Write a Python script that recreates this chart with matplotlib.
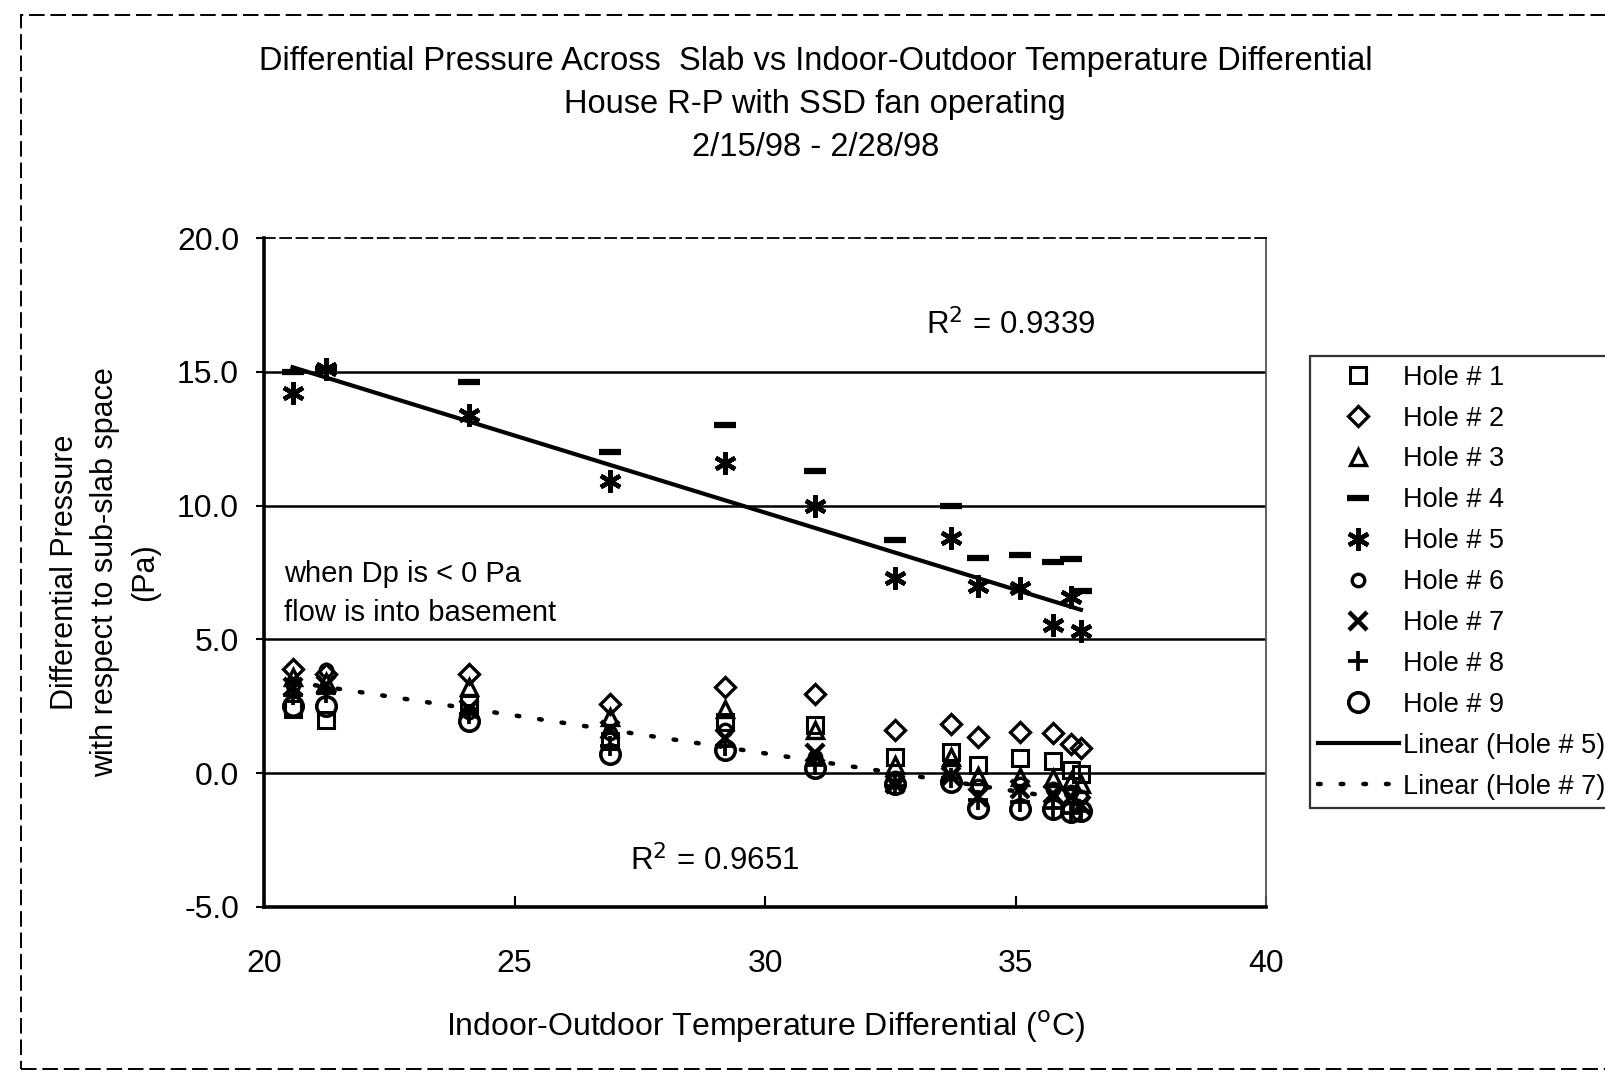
import numpy as np
import matplotlib
matplotlib.use('Agg')
import matplotlib.pyplot as plt
from matplotlib.patches import Rectangle

plt.rcParams['font.family'] = ['Liberation Sans', 'DejaVu Sans']

# temperature differential (deg C) for each reading
temp_diff = [20.57, 21.23, 24.1, 26.9, 29.2, 31.0, 32.6, 33.7, 34.24, 35.08, 35.75, 36.1, 36.3]

# differential pressure (Pa) per hole
hole1 = [2.4, 2.0, 2.6, 1.2, 1.9, 1.8, 0.6, 0.8, 0.3, 0.55, 0.45, 0.1, -0.05]
hole2 = [3.9, 3.7, 3.7, 2.6, 3.2, 2.95, 1.6, 1.85, 1.35, 1.55, 1.5, 1.1, 0.95]
hole3 = [3.6, 3.4, 3.2, 2.1, 2.4, 1.6, 0.3, 0.6, -0.1, -0.15, -0.2, -0.3, -0.4]
hole4 = [15.0, 15.1, 14.6, 12.0, 13.0, 11.3, 8.7, 10.0, 8.05, 8.15, 7.9, 8.0, 6.8]
hole5 = [14.2, 15.1, 13.4, 10.9, 11.6, 10.0, 7.3, 8.8, 7.0, 6.9, 5.55, 6.6, 5.3]
hole6 = [3.3, 3.85, 2.3, 1.5, 1.6, 0.6, -0.2, 0.2, -0.5, -0.4, -0.6, -0.7, -0.9]
hole7 = [3.2, 3.3, 2.4, 1.6, 1.3, 0.75, -0.4, -0.1, -0.9, -0.6, -0.8, -0.9, -1.2]
hole8 = [2.9, 3.0, 2.2, 1.0, 1.0, 0.3, -0.5, -0.2, -1.0, -1.1, -1.3, -1.5, -1.4]
hole9 = [2.5, 2.5, 1.95, 0.7, 0.85, 0.2, -0.4, -0.35, -1.3, -1.35, -1.35, -1.45, -1.4]

labels = ['Hole # 1', 'Hole # 2', 'Hole # 3', 'Hole # 4', 'Hole # 5',
          'Hole # 6', 'Hole # 7', 'Hole # 8', 'Hole # 9']
r2_hole5 = 0.9339
r2_hole7 = 0.9651

fig = plt.figure(figsize=(16.05, 10.77), dpi=100)
ax = fig.add_axes([0.1645, 0.158, 0.6245, 0.621])

series = [hole1, hole2, hole3, hole4, hole5, hole6, hole7, hole8, hole9]
styles = [
    dict(marker='s', ms=11, mfc='none', mew=2.2),
    dict(marker='D', ms=10, mfc='none', mew=2.4),
    dict(marker='^', ms=12, mfc='none', mew=2.4),
    dict(marker='_', ms=16, mew=4.5),
    dict(marker=(6, 2, 0), ms=16, mew=3.2),
    dict(marker='o', ms=9, mfc='none', mew=2.4),
    dict(marker='x', ms=13, mew=3.2),
    dict(marker='+', ms=15, mew=2.7),
    dict(marker='o', ms=14, mfc='none', mew=2.6),
]
handles = []
for vals, lab, st in zip(series, labels, styles):
    h, = ax.plot(temp_diff, vals, ls='none', color='black', label=lab, **st)
    handles.append(h)

# linear trend lines
x = np.array(temp_diff)
xs = np.array([x.min(), x.max()])
p5 = np.polyfit(x, hole5, 1)
p7 = np.polyfit(x, hole7, 1)
h5, = ax.plot(xs, np.polyval(p5, xs), color='black', lw=3, label='Linear (Hole # 5)')
h7, = ax.plot(xs, np.polyval(p7, xs), color='black', lw=3.2, ls=(0, (0.6, 4.5)),
              dash_capstyle='round', label='Linear (Hole # 7)')
handles += [h5, h7]

ax.set_xlim(20, 40)
ax.set_ylim(-5, 20)
ax.set_xticks([20, 25, 30, 35, 40])
ax.set_yticks([-5, 0, 5, 10, 15, 20])
ax.set_yticklabels(['-5.0', '0.0', '5.0', '10.0', '15.0', '20.0'])
for yv in [0, 5, 10, 15]:
    ax.axhline(yv, color='black', lw=1.8, zorder=0)
ax.spines['top'].set_linestyle((0, (6, 3)))
ax.spines['top'].set_linewidth(1.3)
ax.spines['right'].set_color('#555555')
ax.spines['right'].set_linewidth(1.3)
ax.spines['left'].set_linewidth(2.6)
ax.spines['bottom'].set_linewidth(2.6)
ax.tick_params(axis='y', direction='out', length=6, width=1.5, labelsize=23, pad=12)
ax.tick_params(axis='x', direction='in', length=8, width=1.5, labelsize=23, pad=30)

ax.set_xlabel('Indoor-Outdoor Temperature Differential ($^{\\rm o}$C)',
              fontsize=23, labelpad=22)
ax.set_ylabel('Differential Pressure\nwith respect to sub-slab space\n(Pa)',
              fontsize=22, labelpad=12, linespacing=1.45)

ax.text(33.2, 16.75, 'R$^2$ = %.4f' % r2_hole5, fontsize=22.5, va='center')
ax.text(27.3, -3.3, 'R$^2$ = %.4f' % r2_hole7, fontsize=22.5, va='center')
ax.text(20.4, 6.7, 'when Dp is < 0 Pa\nflow is into basement', fontsize=21,
        va='center', linespacing=1.5)

fig.text(0.508, 0.903, 'Differential Pressure Across  Slab vs Indoor-Outdoor Temperature Differential\n'
         'House R-P with SSD fan operating\n2/15/98 - 2/28/98',
         ha='center', va='center', fontsize=23.5, linespacing=1.5)

leg = fig.legend(handles=handles, loc='upper left', bbox_to_anchor=(0.816, 0.669),
                 frameon=True, fancybox=False, edgecolor='black', fontsize=19.5,
                 handlelength=3.0, handletextpad=0.15, labelspacing=0.55,
                 borderpad=0.3, borderaxespad=0)
leg.get_frame().set_linewidth(1.6)

# dashed outer border of the chart
fig.patches.append(Rectangle((0.013, 0.007), 1.2, 0.979, transform=fig.transFigure,
                             fill=False, ec='black', lw=1.4, ls=(0, (8, 3))))

fig.savefig('out.png', dpi=100)
